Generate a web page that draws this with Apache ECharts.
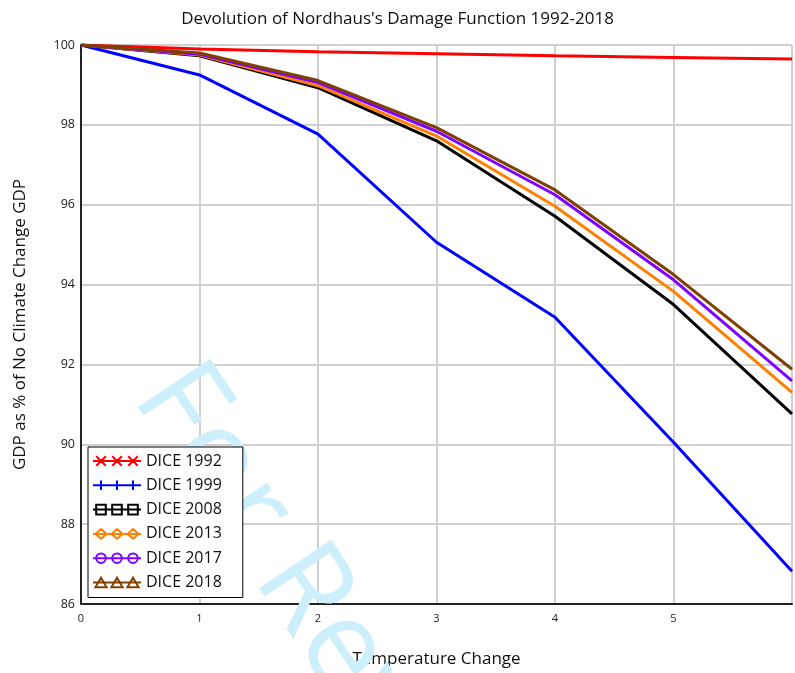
<!DOCTYPE html>
<html>
  <head>
    <meta charset="utf-8" />
    <title>Devolution of Nordhaus's Damage Function 1992-2018</title>
    <script src="https://cdn.jsdelivr.net/npm/echarts@6/dist/echarts.min.js"></script>
    <style>
      body { margin: 0; background: #fff; }
      #main { width: 795px; height: 673px; }
    </style>
  </head>
  <body>
    <div id="main"></div>
    <script type="text/javascript">
      // temperature change (deg C) and GDP as % of no-climate-change GDP
      var temps = [0, 1, 2, 3, 4, 5, 6];
      var dice1992 = [100, 99.9, 99.83, 99.78, 99.73, 99.69, 99.65];
      var dice1999 = [100, 99.25, 97.77, 95.06, 93.18, 90.05, 86.82];
      var dice2008 = [100, 99.73, 98.93, 97.6, 95.71, 93.5, 90.76];
      var dice2013 = [100, 99.75, 98.98, 97.72, 95.96, 93.83, 91.3];
      var dice2017 = [100, 99.77, 99.06, 97.84, 96.25, 94.12, 91.59];
      var dice2018 = [100, 99.8, 99.11, 97.93, 96.37, 94.25, 91.88];
      var xTicks = ["0", "1", "2", "3", "4", "5"];
      var yTicks = [86, 88, 90, 92, 94, 96, 98, 100];

      var names = ["DICE 1992", "DICE 1999", "DICE 2008", "DICE 2013", "DICE 2017", "DICE 2018"];
      var colors = ["#ff0000", "#0000ff", "#000000", "#ff8000", "#8000ff", "#804000"];
      var values = [dice1992, dice1999, dice2008, dice2013, dice2017, dice2018];

      // legend glyphs: a line with three markers on it (box 60 x 14)
      var line = "M0,7L60,7";
      function three(fn) { return line + fn(10) + fn(30) + fn(50); }
      var icons = [
        three(function (c) { return "M" + (c - 6) + ",1L" + (c + 6) + ",13M" + (c + 6) + ",1L" + (c - 6) + ",13"; }),
        three(function (c) { return "M" + c + ",1L" + c + ",13"; }),
        three(function (c) { return "M" + (c - 6) + ",1L" + (c + 6) + ",1L" + (c + 6) + ",13L" + (c - 6) + ",13Z"; }),
        three(function (c) { return "M" + c + ",1L" + (c + 7) + ",7L" + c + ",13L" + (c - 7) + ",7Z"; }),
        three(function (c) { return "M" + (c - 6) + ",7A6,6 0 1 1 " + (c + 6) + ",7A6,6 0 1 1 " + (c - 6) + ",7Z"; }),
        three(function (c) { return "M" + c + ",1L" + (c + 7) + ",13L" + (c - 7) + ",13Z"; })
      ];

      function pairs(vals) {
        return temps.map(function (t, i) { return [t, vals[i]]; });
      }

      var font = "'Open Sans', sans-serif";
      var myChart = echarts.init(document.getElementById("main"));

      var series = names.map(function (n, i) {
        return {
          name: n,
          type: "line",
          data: pairs(values[i]),
          showSymbol: false,
          lineStyle: { color: colors[i], width: 3 },
          itemStyle: { color: colors[i] },
          z: 3 + i
        };
      });

      var legendData = names.map(function (n, i) {
        return {
          name: n,
          icon: "path://" + icons[i],
          itemStyle: { color: "rgba(0,0,0,0)", borderColor: colors[i], borderWidth: 2 }
        };
      });

      var option = {
        animation: false,
        title: {
          text: "Devolution of Nordhaus's Damage Function 1992-2018",
          left: "center",
          top: 6,
          textStyle: { fontFamily: font, fontWeight: "normal", fontSize: 17, color: "#111" }
        },
        grid: {
          left: 81, right: 1, top: 45, bottom: 64,
          show: true, borderColor: "#555", borderWidth: 1
        },
        legend: {
          orient: "vertical",
          left: 88,
          top: 447,
          data: legendData,
          itemWidth: 48,
          itemHeight: 14,
          itemGap: 8.3,
          padding: [6, 21, 7, 4],
          backgroundColor: "#fff",
          borderColor: "#000",
          borderWidth: 1,
          borderRadius: 0,
          textStyle: { fontFamily: font, fontSize: 16, color: "#111" }
        },
        xAxis: {
          type: "value",
          min: 0,
          max: 6,
          interval: 1,
          name: "Temperature Change",
          nameLocation: "middle",
          nameGap: 47,
          nameTextStyle: { fontFamily: font, fontSize: 17, color: "#111" },
          axisLine: { lineStyle: { color: "#222", width: 2 } },
          axisTick: { show: false },
          axisLabel: {
            fontFamily: font, fontSize: 11, color: "#222", margin: 9,
            formatter: function (v) { return xTicks[v] !== undefined ? xTicks[v] : ""; }
          },
          splitLine: { lineStyle: { color: "#d0d0d0", width: 2 } }
        },
        yAxis: {
          type: "value",
          min: yTicks[0],
          max: yTicks[yTicks.length - 1],
          interval: 2,
          name: "GDP as % of No Climate Change GDP",
          nameLocation: "middle",
          nameGap: 52,
          nameTextStyle: { fontFamily: font, fontSize: 17, color: "#111" },
          axisLine: { lineStyle: { color: "#222", width: 2 } },
          axisTick: { show: false },
          axisLabel: { fontFamily: font, fontSize: 12.5, color: "#222", margin: 6 },
          splitLine: { lineStyle: { color: "#d0d0d0", width: 2 } }
        },
        graphic: [
          {
            type: "text",
            x: 160,
            y: 378,
            rotation: -0.98,
            z: 1,
            silent: true,
            style: {
              text: "For Review",
              fontFamily: font,
              fontSize: 122,
              fill: "#cdeefb",
              textAlign: "left",
              textVerticalAlign: "middle"
            }
          }
        ],
        series: series
      };

      myChart.setOption(option);
    </script>
  </body>
</html>
